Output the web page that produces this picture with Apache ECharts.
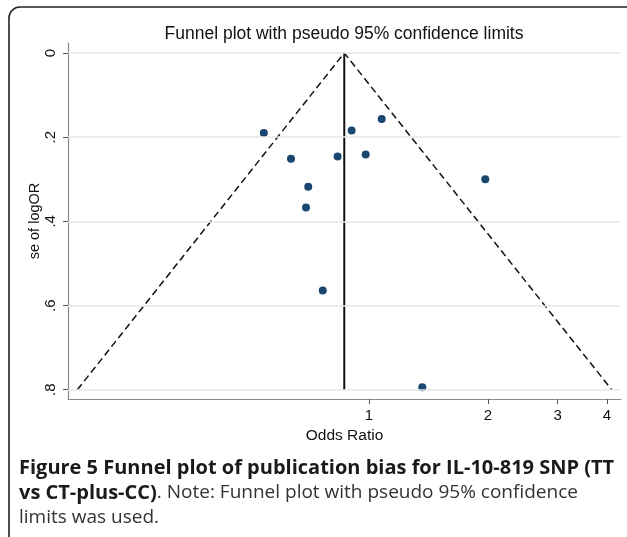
<!DOCTYPE html>
<html>
<head>
<meta charset="utf-8">
<script src="https://cdn.jsdelivr.net/npm/echarts@6/dist/echarts.min.js"></script>
<style>
html,body{margin:0;padding:0;background:#fff;}
#chart{width:627px;height:537px;}
</style>
</head>
<body>
<div id="chart"></div>
<script>
// Study estimates (odds ratio, standard error of log OR)
const oddsRatio = [0.542, 0.635, 0.702, 0.693, 0.833, 0.904, 0.981, 1.077, 1.969, 0.764, 1.364];
const seLogOR   = [0.190, 0.251, 0.318, 0.367, 0.246, 0.184, 0.241, 0.157, 0.300, 0.564, 0.794];
// Pooled estimate and pseudo 95% confidence limits
const pooledOR = 0.866;
const funnelLowerOR = 0.183;
const funnelUpperOR = 4.11;
const funnelSE = [0, 0.8];
// Axis ticks
const xTicks = [1, 2, 3, 4];
const yTicks = [0, 0.2, 0.4, 0.6, 0.8];

const chart = echarts.init(document.getElementById('chart'));
const FONT = 'Liberation Sans, Arial, sans-serif';

const option = {
  backgroundColor: '#fff',
  animation: false,
  title: {
    text: 'Funnel plot with pseudo 95% confidence limits',
    left: 339, top: 20, textAlign: 'center',
    textStyle: {fontFamily: FONT, fontSize: 17.5, fontWeight: 'normal', color: '#111'}
  },
  grid: {left: 68, right: 6, top: 43, bottom: 138},
  xAxis: {
    type: 'log', logBase: 10,
    min: 0.1733, max: 4.339,
    name: 'Odds Ratio', nameLocation: 'middle', nameGap: 27,
    nameTextStyle: {fontFamily: FONT, fontSize: 15.5, color: '#111'},
    axisLine: {show: true, onZero: false, lineStyle: {color: '#8a8a8a', width: 1.2}},
    axisTick: {show: true, length: 5, customValues: xTicks, lineStyle: {color: '#555'}},
    axisLabel: {customValues: xTicks, margin: 9, fontFamily: FONT, fontSize: 15, color: '#111',
      formatter: v => String(Math.round(v))},
    splitLine: {show: false},
    minorTick: {show: false}
  },
  yAxis: {
    type: 'value', inverse: true,
    min: -0.0237, max: 0.822,
    name: 'se of logOR', nameLocation: 'middle', nameGap: 26, nameMoveOverlap: false,
    nameTextStyle: {fontFamily: FONT, fontSize: 14.5, color: '#111'},
    axisLine: {show: true, onZero: false, lineStyle: {color: '#8a8a8a', width: 1.2}},
    axisTick: {show: true, length: 5, customValues: yTicks, lineStyle: {color: '#555'}},
    axisLabel: {customValues: yTicks, rotate: 90, margin: 10, fontFamily: FONT, fontSize: 15, color: '#111',
      formatter: v => (Math.abs(v) < 1e-9 ? '0' : String(+v.toFixed(1)).replace(/^0\./, '.'))},
    splitLine: {show: false}
  },
  series: [
    {
      type: 'line', data: [], z: 1,
      markLine: {
        silent: true, symbol: ['none', 'none'], animation: false,
        label: {show: false},
        lineStyle: {color: '#e2eaec', width: 1.5, type: 'solid'},
        emphasis: {disabled: true},
        data: yTicks.map(v => ({yAxis: v}))
      }
    },
    {
      type: 'line',
      data: [[funnelLowerOR, funnelSE[1]], [pooledOR, funnelSE[0]], [funnelUpperOR, funnelSE[1]]],
      showSymbol: false, symbol: 'none',
      lineStyle: {color: '#111', width: 1.5, type: [7, 4]},
      z: 2
    },
    {
      type: 'line',
      data: [[pooledOR, funnelSE[0]], [pooledOR, funnelSE[1]]],
      showSymbol: false, symbol: 'none',
      lineStyle: {color: '#111', width: 2},
      z: 2
    },
    {
      type: 'scatter',
      data: oddsRatio.map((o, i) => [o, seLogOR[i]]),
      symbolSize: 8,
      itemStyle: {color: '#1a476f', opacity: 1},
      z: 3
    }
  ],
  graphic: [
    {
      type: 'rect', silent: true,
      shape: {x: 9, y: 7, width: 700, height: 600, r: 11},
      style: {fill: 'none', stroke: '#222', lineWidth: 1.6}
    },
    {
      type: 'text', left: 19, top: 458, silent: true,
      style: {
        text: '{b|Figure 5 Funnel plot of publication bias for IL-10-819 SNP (TT}\n{b|vs CT-plus-CC)}{n|. Note: Funnel plot with pseudo 95% confidence}\n{n|limits was used.}',
        rich: {
          b: {fontFamily: 'Open Sans', fontWeight: 'bold', fontSize: 20, lineHeight: 25, fill: '#1a1a1a'},
          n: {fontFamily: 'Open Sans', fontWeight: 'normal', fontSize: 19, lineHeight: 25, fill: '#333'}
        }
      }
    }
  ]
};
chart.setOption(option);
</script>
</body>
</html>
